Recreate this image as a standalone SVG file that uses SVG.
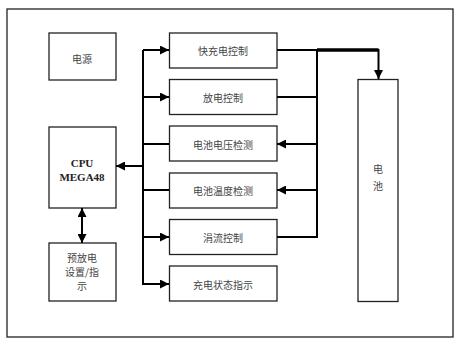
<svg xmlns="http://www.w3.org/2000/svg" width="462" height="344" viewBox="0 0 462 344">
<defs>
<style>
.box{fill:#fff;stroke:#222;stroke-width:1.3}
.t{font-family:"Noto Sans CJK SC","Noto Sans",sans-serif;font-size:10px;fill:#444;text-anchor:middle;dominant-baseline:central}
.b{font-family:"Liberation Serif",serif;font-size:11px;font-weight:bold;fill:#222;text-anchor:middle;dominant-baseline:central}
.w{fill:none;stroke:#000;stroke-width:2}
</style>
<marker id="ah" viewBox="0 0 10 10" refX="10" refY="5" markerWidth="5" markerHeight="4.5" orient="auto-start-reverse" markerUnits="strokeWidth">
<path d="M0,0L10,5L0,10z" fill="#000"/>
</marker>
</defs>
<rect x="7" y="9" width="446" height="328" fill="#fff" stroke="#222" stroke-width="1.3"/>
<g id="power"><rect class="box" x="49" y="33" width="67" height="47"/><text class="t" x="82" y="58">电源</text></g>
<g id="cpu"><rect class="box" x="49" y="127" width="67" height="81"/><text class="b" x="82" y="163">CPU</text><text class="b" x="82" y="177">MEGA48</text></g>
<g id="predis"><rect class="box" x="49" y="243" width="67" height="58"/><text class="t" x="82" y="257">预放电</text><text class="t" x="82" y="271">设置/指</text><text class="t" x="82" y="285">示</text></g>
<g id="fast"><rect class="box" x="169.5" y="33" width="107.5" height="35"/><text class="t" x="223" y="50">快充电控制</text></g>
<g id="dis"><rect class="box" x="169.5" y="79.5" width="107.5" height="35"/><text class="t" x="223" y="97">放电控制</text></g>
<g id="volt"><rect class="box" x="169.5" y="126" width="107.5" height="35"/><text class="t" x="223" y="144">电池电压检测</text></g>
<g id="temp"><rect class="box" x="169.5" y="173" width="107.5" height="35"/><text class="t" x="223" y="190">电池温度检测</text></g>
<g id="trickle"><rect class="box" x="169.5" y="219.5" width="107.5" height="35"/><text class="t" x="223" y="237">涓流控制</text></g>
<g id="status"><rect class="box" x="169.5" y="266" width="107.5" height="35"/><text class="t" x="223" y="284">充电状态指示</text></g>
<g id="battery"><rect class="box" x="358" y="79.5" width="40" height="222"/><text class="t" x="378" y="168">电</text><text class="t" x="378" y="185">池</text></g>
<g id="connectors">
<path class="w" d="M143,50V285"/>
<path class="w" d="M143,50H169" marker-end="url(#ah)"/>
<path class="w" d="M143,97H169" marker-end="url(#ah)"/>
<path class="w" d="M143,144H169"/>
<path class="w" d="M143,190H169"/>
<path class="w" d="M143,237H169" marker-end="url(#ah)"/>
<path class="w" d="M143,284H169" marker-end="url(#ah)"/>
<path class="w" d="M143,166H116" marker-end="url(#ah)"/>
<path class="w" d="M82,208V243" marker-start="url(#ah)" marker-end="url(#ah)"/>
<path class="w" d="M277,50H317"/>
<path fill="none" stroke="#000" stroke-width="3.5" d="M317,50H378.5"/>
<path class="w" d="M378.5,49V79" marker-end="url(#ah)"/>
<path class="w" d="M317,50V237H277"/>
<path class="w" d="M277,97H317"/>
<path class="w" d="M317,144H277" marker-end="url(#ah)"/>
<path class="w" d="M317,190H277" marker-end="url(#ah)"/>
</g>
</svg>
